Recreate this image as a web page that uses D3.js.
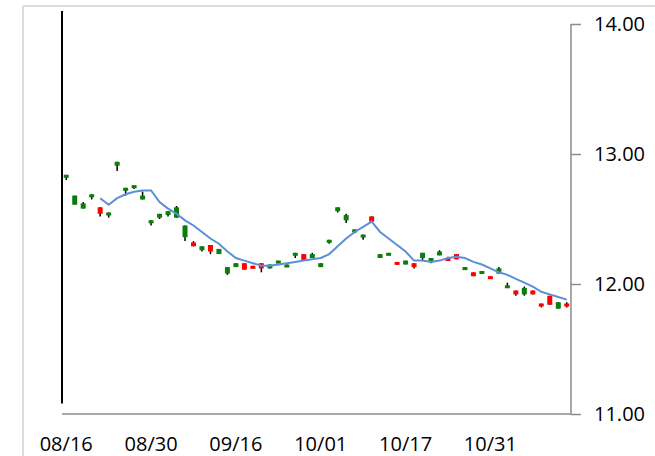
<!DOCTYPE html>
<html>
<head>
<meta charset="utf-8">
<script src="https://cdn.jsdelivr.net/npm/d3@7"></script>
<style>
  body { margin: 0; background: #fff; }
  text { font-family: "Open Sans", sans-serif; fill: #000; }
</style>
</head>
<body>
<svg width="655" height="456"></svg>
<script>
// candles, one per trading day (60 categories)
var opens  = [12.82,12.61,12.58,12.67,12.59,12.53,12.91,12.72,12.74,12.65,
              12.47,12.51,12.53,12.51,12.36,12.32,12.26,12.30,12.23,12.08,
              12.13,12.16,12.14,12.16,12.12,12.16,12.13,12.22,12.23,12.20,
              12.13,12.32,12.56,12.49,12.40,12.36,12.52,12.20,12.22,12.17,
              12.15,12.16,12.20,12.17,12.22,12.20,12.23,12.11,12.09,12.08,
              12.06,12.08,11.97,11.95,11.92,11.95,11.85,11.91,11.81,11.85];
var highs  = [12.84,12.68,12.63,12.69,12.59,12.55,12.94,12.74,12.76,12.71,
              12.49,12.54,12.56,12.60,12.45,12.33,12.29,12.30,12.27,12.13,
              12.16,12.16,12.14,12.16,12.15,12.18,12.15,12.24,12.23,12.24,
              12.16,12.34,12.59,12.54,12.42,12.38,12.52,12.23,12.24,12.17,
              12.18,12.16,12.24,12.20,12.26,12.21,12.23,12.13,12.09,12.10,
              12.06,12.13,12.01,11.95,11.98,11.95,11.85,11.91,11.86,11.86];
var lows   = [12.80,12.61,12.58,12.65,12.52,12.51,12.87,12.68,12.73,12.65,
              12.45,12.50,12.52,12.51,12.33,12.29,12.25,12.23,12.23,12.07,
              12.13,12.11,12.12,12.09,12.12,12.16,12.13,12.20,12.18,12.20,
              12.13,12.31,12.55,12.47,12.39,12.34,12.48,12.20,12.22,12.15,
              12.15,12.12,12.18,12.16,12.22,12.18,12.19,12.11,12.06,12.08,
              12.04,12.08,11.97,11.91,11.91,11.92,11.82,11.84,11.81,11.82];
var closes = [12.84,12.68,12.62,12.69,12.54,12.55,12.94,12.74,12.76,12.68,
              12.49,12.54,12.56,12.59,12.45,12.29,12.29,12.25,12.27,12.13,
              12.16,12.11,12.12,12.12,12.15,12.18,12.15,12.24,12.18,12.23,
              12.16,12.34,12.59,12.53,12.42,12.38,12.48,12.23,12.24,12.15,
              12.18,12.13,12.24,12.20,12.25,12.18,12.19,12.13,12.06,12.10,
              12.04,12.12,11.99,11.92,11.97,11.92,11.83,11.84,11.86,11.83];

// moving average line, starts at the 5th candle
var maStart = 4;
var maValues = [12.66,12.61,12.66,12.69,12.71,12.72,12.72,12.63,12.58,12.54,
                12.49,12.45,12.40,12.35,12.31,12.25,12.20,12.18,12.16,12.14,
                12.14,12.15,12.16,12.17,12.18,12.19,12.20,12.23,12.29,12.35,
                12.40,12.44,12.48,12.40,12.35,12.30,12.25,12.18,12.18,12.17,
                12.18,12.20,12.21,12.20,12.17,12.15,12.12,12.09,12.07,12.04,
                12.01,11.98,11.94,11.92,11.90,11.88];

var tickIndex  = [0, 10, 20, 30, 40, 50];
var tickLabels = ["08/16", "08/30", "09/16", "10/01", "10/17", "10/31"];
var yTicks = [11, 12, 13, 14];
var leftRule = [14.10, 11.08];   // the dark vertical bar at the left edge

var svg = d3.select("svg");
var PLOT = {left: 62, right: 571, top: 24, bottom: 414};

var x = d3.scaleBand()
    .domain(d3.range(opens.length))
    .range([PLOT.left, PLOT.right]);
var y = d3.scaleLinear().domain([11, 14]).range([PLOT.bottom, PLOT.top]);

// light frame
svg.append("line")
    .attr("x1", 23).attr("x2", 655).attr("y1", 6).attr("y2", 6)
    .attr("stroke", "#d0d0d0").attr("stroke-width", 1.5);
svg.append("line")
    .attr("x1", 23).attr("x2", 23).attr("y1", 6).attr("y2", 456)
    .attr("stroke", "#d0d0d0").attr("stroke-width", 1.5);

// bottom axis line
svg.append("line")
    .attr("x1", PLOT.left).attr("x2", PLOT.right)
    .attr("y1", y(11)).attr("y2", y(11))
    .attr("stroke", "#8c8c8c").attr("stroke-width", 1.5);

// right axis
var yAxis = svg.append("g")
    .attr("transform", "translate(" + PLOT.right + ",0)")
    .call(d3.axisRight(y).tickValues(yTicks).tickSize(10).tickPadding(13)
        .tickFormat(d3.format(".2f")));
yAxis.select(".domain").attr("stroke", "#8c8c8c").attr("stroke-width", 1.5)
    .attr("d", "M0," + y(14) + "V" + y(11));
yAxis.selectAll(".tick line").attr("stroke", "#8c8c8c").attr("stroke-width", 1.5);
yAxis.selectAll(".tick text").style("font-size", "20px")
    .style("font-family", "'Open Sans', sans-serif").attr("fill", "#000");

// category labels
svg.append("g").selectAll("text")
    .data(tickIndex)
    .enter().append("text")
    .attr("x", d => x(d) + x.bandwidth() / 2)
    .attr("y", 451)
    .attr("text-anchor", "middle")
    .style("font-size", "20px")
    .text((d, i) => tickLabels[i]);

// left bar
svg.append("line")
    .attr("x1", PLOT.left).attr("x2", PLOT.left)
    .attr("y1", y(leftRule[0])).attr("y2", y(leftRule[1]))
    .attr("stroke", "#000").attr("stroke-width", 2);

// candles
var cx = i => x(i) + x.bandwidth() / 2;
var candles = svg.append("g").selectAll("g")
    .data(d3.range(opens.length))
    .enter().append("g");

candles.append("line")
    .attr("x1", cx).attr("x2", cx)
    .attr("y1", i => y(highs[i])).attr("y2", i => y(lows[i]))
    .attr("stroke", "#000").attr("stroke-width", 1.5);

candles.append("rect")
    .attr("x", i => cx(i) - 2.5)
    .attr("width", 5)
    .attr("y", i => y(Math.max(opens[i], closes[i])))
    .attr("height", i => Math.max(3, Math.abs(y(opens[i]) - y(closes[i]))))
    .attr("fill", i => closes[i] >= opens[i] ? "#0a7d0a" : "#ff0000");

// moving average
var line = d3.line()
    .x((d, i) => cx(i + maStart))
    .y(d => y(d));

svg.append("path")
    .datum(maValues)
    .attr("fill", "none")
    .attr("stroke", "#5b8fd9")
    .attr("stroke-width", 2)
    .attr("d", line);
</script>
</body>
</html>
